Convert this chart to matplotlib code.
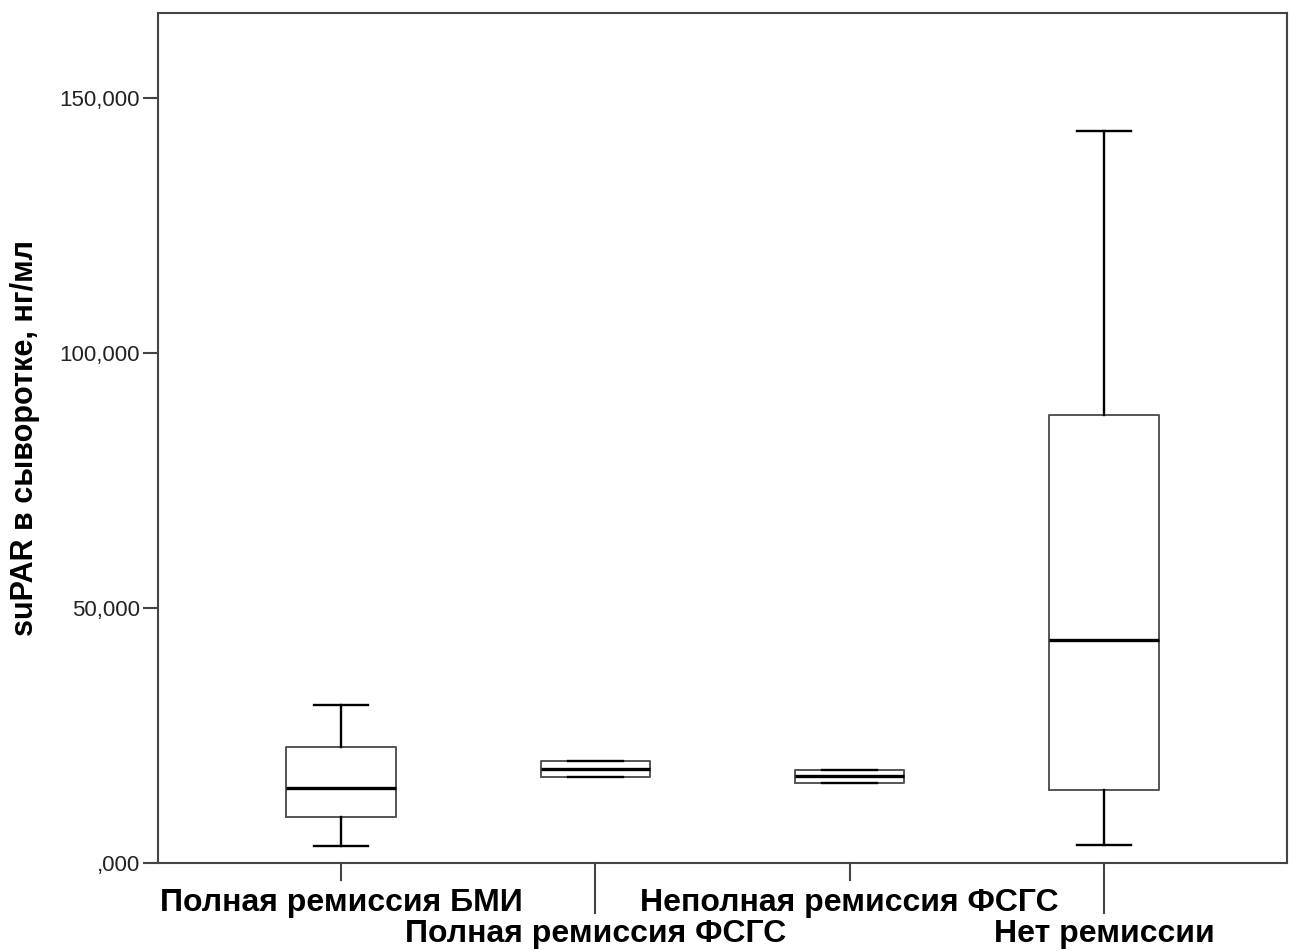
import matplotlib
matplotlib.use("Agg")
import matplotlib.pyplot as plt

categories = ["Полная ремиссия БМИ", "Полная ремиссия ФСГС",
              "Неполная ремиссия ФСГС", "Нет ремиссии"]
whislo = [3330, 16980, 15690, 3590]
q1 = [9140, 16980, 15690, 14370]
med = [14710, 18430, 17180, 43780]
q3 = [22800, 20060, 18290, 87900]
whishi = [30980, 20060, 18290, 143590]
yticks = [0, 50000, 100000, 150000]
ytick_labels = [",000", "50,000", "100,000", "150,000"]
ylabel = "suPAR в сыворотке, нг/мл"

fig = plt.figure(figsize=(12.96, 9.51), dpi=100)
ax = fig.add_axes([0.1219, 0.0922, 0.9931 - 0.1219, 0.9863 - 0.0922])

stats = []
for i in range(len(categories)):
    stats.append(dict(label=categories[i], whislo=whislo[i], q1=q1[i], med=med[i],
                      q3=q3[i], whishi=whishi[i], fliers=[]))

positions = list(range(1, len(categories) + 1))
ax.bxp(stats, positions=positions, widths=0.43, showfliers=False,
       boxprops=dict(color="#555555", linewidth=1.4),
       whiskerprops=dict(color="black", linewidth=1.7),
       capprops=dict(color="black", linewidth=1.7),
       medianprops=dict(color="black", linewidth=2.4, solid_capstyle="butt"))

ax.set_xlim(0.28, 4.72)
ax.set_ylim(0, 166700)
ax.set_yticks(yticks)
ax.set_yticklabels(ytick_labels, fontsize=16, family="Liberation Sans", color="#222222")
ax.tick_params(axis="y", length=11, width=1.5, color="#444444", pad=2)

ax.set_xticks(positions)
ax.set_xticklabels([])
ax.tick_params(axis="x", length=0)
px_per_unit = 850.3 / 166700
for i, p in enumerate(positions):
    long = (i % 2 == 1)
    tl = 50 if long else 17
    ax.plot([p, p], [0, -tl / px_per_unit], color="#444444", lw=1.5,
            clip_on=False)
    base_px = 79 if long else 47.5
    ax.annotate(categories[i], xy=(p, 0), xycoords="data",
                xytext=(0, -base_px * 0.72), textcoords="offset points",
                ha="center", va="baseline", fontsize=23, fontweight="bold",
                family="Liberation Sans")

for s in ax.spines.values():
    s.set_color("#444444")
    s.set_linewidth(1.5)

fig.text(0.019, 0.539, ylabel, rotation=90, ha="center", va="center",
         fontsize=22, fontweight="bold", family="Liberation Sans")

fig.savefig("out.png", dpi=100)
